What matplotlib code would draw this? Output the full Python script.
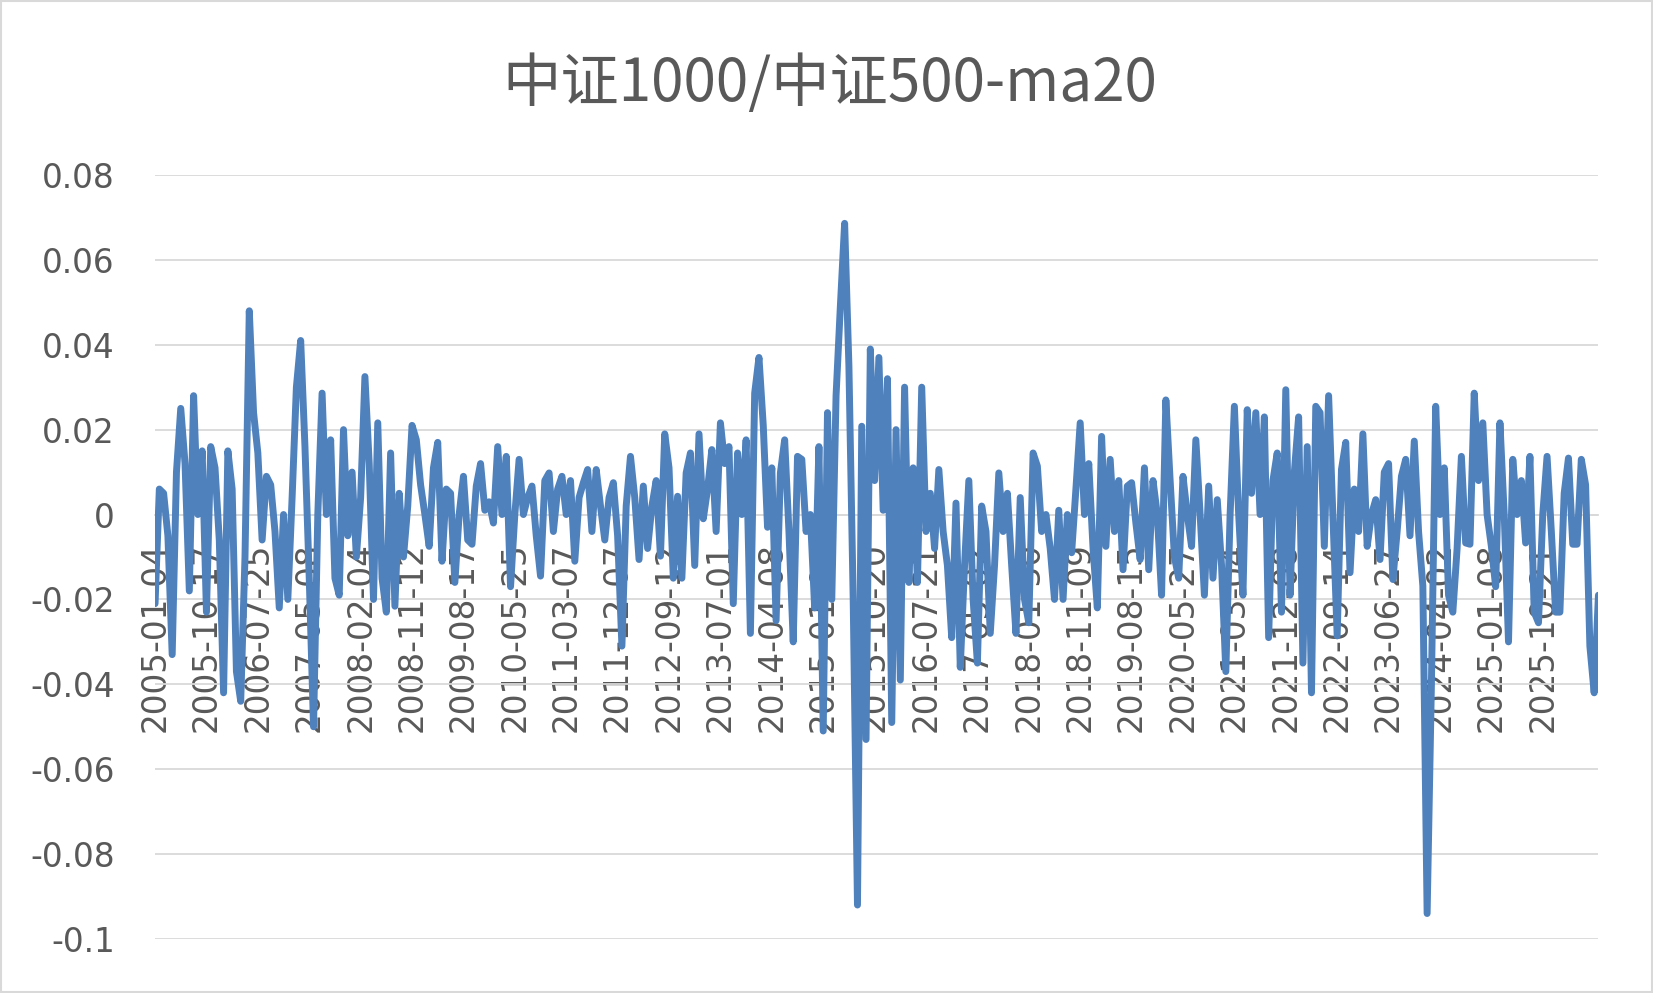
import matplotlib
matplotlib.use("Agg")
import matplotlib.pyplot as plt
from matplotlib.patches import Rectangle
import numpy as np

# ---------------- data ----------------
title_text = "中证1000/中证500-ma20"

date_labels = [
    "2005-01-04", "2005-10-17", "2006-07-25", "2007-05-08", "2008-02-04",
    "2008-11-12", "2009-08-17", "2010-05-25", "2011-03-07", "2011-12-07",
    "2012-09-12", "2013-07-01", "2014-04-08", "2015-01-09", "2015-10-20",
    "2016-07-21", "2017-05-02", "2018-01-30", "2018-11-09", "2019-08-15",
    "2020-05-27", "2021-03-04", "2021-12-08", "2022-09-14", "2023-06-27",
    "2024-04-02", "2025-01-08", "2025-10-21",
]
label_every = 12  # one date label every 12 plotted samples

ratio_ma20 = [
    -0.021, 0.006, 0.005, -0.005, -0.033, 0.010, 0.025, 0.012, -0.018, 0.028,
    0.000, 0.015, -0.023, 0.016, 0.011, -0.006, -0.042, 0.015, 0.006, -0.037,
    -0.044, -0.010, 0.048, 0.024, 0.0145, -0.006, 0.009, 0.007, -0.004, -0.022,
    0.000, -0.020, 0.004, 0.030, 0.041, 0.016, -0.015, -0.050, 0.000, 0.0286,
    0.000, 0.0176, -0.015, -0.019, 0.020, -0.005, 0.010, -0.010, 0.004, 0.0325,
    0.012, -0.020, 0.0216, -0.015, -0.023, 0.0145, -0.0216, 0.005, -0.010, 0.002,
    0.021, 0.0176, 0.007, 0.000, -0.0075, 0.011, 0.017, -0.011, 0.006, 0.005,
    -0.016, 0.000, 0.009, -0.006, -0.007, 0.0067, 0.012, 0.001, 0.003, -0.002,
    0.016, 0.000, 0.0137, -0.017, 0.000, 0.013, 0.000, 0.004, 0.0067, -0.005,
    -0.0145, 0.008, 0.0098, -0.004, 0.006, 0.009, 0.000, 0.008, -0.011, 0.004,
    0.0075, 0.0106, -0.004, 0.0106, 0.002, -0.006, 0.004, 0.0075, -0.005, -0.031,
    0.002, 0.0137, 0.004, -0.0106, 0.0067, -0.008, 0.002, 0.008, -0.0098, 0.019,
    0.011, -0.015, 0.0043, -0.015, 0.0098, 0.0145, -0.012, 0.019, -0.001, 0.006,
    0.0153, -0.004, 0.0216, 0.012, 0.016, -0.021, 0.0145, 0.000, 0.0176, -0.028,
    0.0286, 0.037, 0.021, -0.003, 0.011, -0.025, 0.0098, 0.0176, -0.004, -0.030,
    0.0137, 0.013, -0.004, 0.000, -0.022, 0.016, -0.051, 0.024, -0.020, 0.028,
    0.049, 0.0686, 0.035, -0.020, -0.092, 0.0208, -0.053, 0.039, 0.008, 0.037,
    0.001, 0.032, -0.049, 0.020, -0.039, 0.030, -0.016, 0.011, -0.016, 0.030,
    -0.004, 0.005, -0.008, 0.0106, -0.004, -0.012, -0.029, 0.0027, -0.036, -0.012,
    0.008, -0.020, -0.035, 0.002, -0.004, -0.028, -0.012, 0.0098, -0.004, 0.005,
    -0.012, -0.028, 0.004, -0.020, -0.0255, 0.0145, 0.0114, -0.004, 0.000, -0.008,
    -0.020, 0.001, -0.020, 0.000, -0.009, 0.006, 0.0216, 0.000, 0.012, -0.008,
    -0.022, 0.0184, -0.0075, 0.013, -0.004, 0.008, -0.013, 0.0067, 0.0075, -0.002,
    -0.0106, 0.011, -0.013, 0.008, 0.000, -0.019, 0.027, 0.008, -0.010, -0.015,
    0.009, 0.000, -0.0075, 0.0176, 0.000, -0.019, 0.0067, -0.015, 0.0035, -0.012,
    -0.037, 0.000, 0.0255, 0.000, -0.019, 0.0247, 0.005, 0.024, 0.000, 0.023,
    -0.029, 0.008, 0.0145, -0.023, 0.0294, -0.019, 0.010, 0.023, -0.035, 0.016,
    -0.042, 0.0255, 0.024, -0.0075, 0.028, 0.000, -0.0286, 0.0106, 0.017, -0.0137,
    0.006, -0.004, 0.019, -0.0075, 0.000, 0.0035, -0.0106, 0.010, 0.012, -0.0153,
    -0.004, 0.009, 0.013, -0.005, 0.0173, -0.004, -0.0168, -0.094, -0.040, 0.0255,
    0.000, 0.011, -0.019, -0.023, -0.008, 0.0137, -0.0067, -0.007, 0.0286, 0.008,
    0.0216, 0.000, -0.0075, -0.017, 0.0216, 0.000, -0.030, 0.013, 0.000, 0.008,
    -0.0067, 0.0137, -0.023, -0.0255, 0.000, 0.0137, -0.004, -0.023, -0.023, 0.005,
    0.0133, -0.007, -0.007, 0.013, 0.007, -0.031, -0.042, -0.019,
]

y_ticks = [-0.1, -0.08, -0.06, -0.04, -0.02, 0.0, 0.02, 0.04, 0.06, 0.08]
y_tick_labels = ["-0.1", "-0.08", "-0.06", "-0.04", "-0.02", "0",
                 "0.02", "0.04", "0.06", "0.08"]

# ---------------- styling ----------------
plt.rcParams['font.family'] = ['DejaVu Sans', 'Noto Sans CJK SC']
text_gray = "#595959"
grid_gray = "#D9D9D9"
line_blue = "#4F81BD"

fig = plt.figure(figsize=(16.53, 9.93), dpi=100)
ax = fig.add_axes([0.0938, 0.0544, 0.8732, 0.7694])

# spines first (set_position resets tick properties)
for s in ['top', 'right', 'left']:
    ax.spines[s].set_visible(False)
ax.spines['bottom'].set_position(('data', 0))
ax.spines['bottom'].set_color(grid_gray)
ax.spines['bottom'].set_linewidth(1.3)
ax.spines['bottom'].set_zorder(1)

x = np.arange(len(ratio_ma20))
ax.plot(x, ratio_ma20, color=line_blue, lw=5.0,
        solid_joinstyle='round', solid_capstyle='round', zorder=3)

ax.set_ylim(-0.1, 0.08)
ax.set_xlim(0, len(ratio_ma20) - 1)

ax.set_yticks(y_ticks)
ax.set_yticklabels(y_tick_labels)
ax.yaxis.grid(True, color=grid_gray, lw=1.3, zorder=0)
ax.set_axisbelow(True)

tick_pos = [i * label_every for i in range(len(date_labels))]
ax.set_xticks(tick_pos)
ax.set_xticklabels(date_labels)

ax.tick_params(axis='y', length=0, pad=29, labelsize=23.5, labelcolor=text_gray)
ax.tick_params(axis='x', length=0, pad=20, labelsize=23.5, labelcolor=text_gray,
               labelrotation=90)
for lab in ax.get_xticklabels():
    lab.set_zorder(5)

fig.text(0.502, 0.915, title_text, ha='center', va='center',
         fontsize=42, color=text_gray,
         family=['Noto Sans CJK SC', 'DejaVu Sans'])

fig.patches.append(Rectangle((0.0008, 0.0012), 0.9984, 0.9976,
                             transform=fig.transFigure, fill=False,
                             edgecolor=grid_gray, lw=1.5))

fig.savefig("out.png", dpi=100, facecolor="white")
